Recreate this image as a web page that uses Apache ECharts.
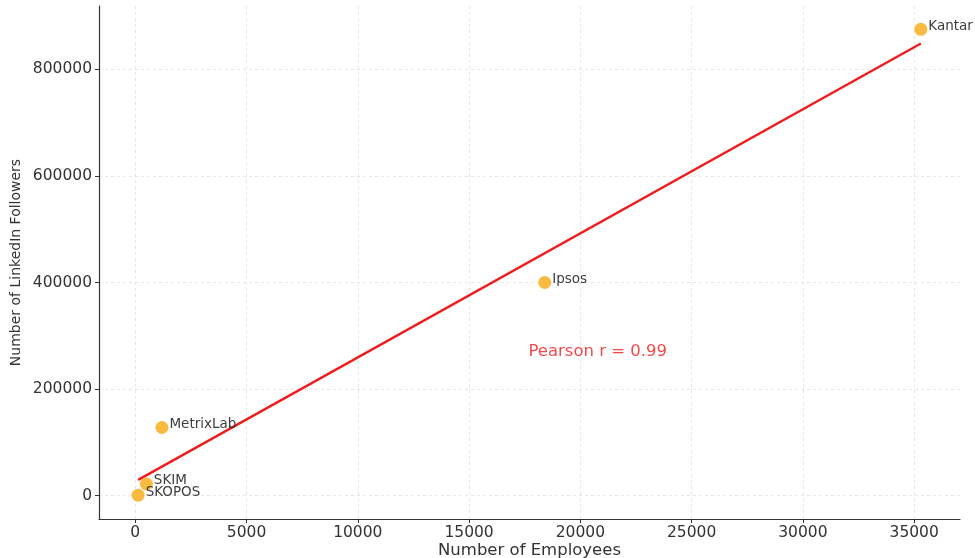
<!DOCTYPE html>
<html>
<head>
<meta charset="utf-8">
<script src="https://cdn.jsdelivr.net/npm/echarts@6/dist/echarts.min.js"></script>
<style>
  html, body { margin: 0; padding: 0; background: #fff; }
  #chart-container { width: 975px; height: 558px; }
</style>
</head>
<body>
<div id="chart-container"></div>
<script>
// 公司数据
const companies = ['Kantar', 'Ipsos', 'MetrixLab', 'SKIM', 'SKOPOS'];
const employees = [35300, 18400, 1200, 500, 130];
const followers = [875000, 400000, 128000, 22000, 1000];
const xTicks = [0, 5000, 10000, 15000, 20000, 25000, 30000, 35000];
const yTicks = [0, 200000, 400000, 600000, 800000];
const pearsonLabel = 'Pearson r = 0.99';
const pearsonAt = [20780, 270000];

// 最小二乘拟合
function linearFit(xs, ys) {
  const n = xs.length;
  const mx = xs.reduce((a, b) => a + b, 0) / n;
  const my = ys.reduce((a, b) => a + b, 0) / n;
  let sxy = 0, sxx = 0;
  for (let i = 0; i < n; i++) {
    sxy += (xs[i] - mx) * (ys[i] - my);
    sxx += (xs[i] - mx) * (xs[i] - mx);
  }
  const slope = sxy / sxx;
  return { slope: slope, intercept: my - slope * mx };
}

const fit = linearFit(employees, followers);
const xLo = Math.min(...employees);
const xHi = Math.max(...employees);
const fitLine = [[xLo, fit.intercept + fit.slope * xLo], [xHi, fit.intercept + fit.slope * xHi]];

// 坐标轴范围 (5% 留白)
const xPad = (xHi - xLo) * 0.05;
const yPad = (Math.max(...followers) - Math.min(...followers)) * 0.05;

const points = companies.map((c, i) => ({ name: c, value: [employees[i], followers[i]] }));

const chartContainer = document.getElementById('chart-container');
const chart = echarts.init(chartContainer);

const font = 'DejaVu Sans';
const gridLine = { show: true, lineStyle: { color: '#e0e0e0', type: [3, 3], width: 0.8 } };
const plain = v => String(v);

chart.setOption({
  animation: false,
  textStyle: { fontFamily: font },
  grid: { left: 99, right: 15, top: 6, bottom: 39, containLabel: false, outerBoundsMode: 'none' },
  xAxis: {
    type: 'value',
    min: xLo - xPad,
    max: xHi + xPad,
    name: 'Number of Employees',
    nameLocation: 'middle',
    nameGap: 23,
    nameMoveOverlap: false,
    nameTextStyle: { fontSize: 16.5, color: '#333', fontFamily: font },
    axisLine: { show: true, onZero: false, lineStyle: { color: '#333', width: 1.2 } },
    axisTick: { show: true, customValues: xTicks, length: 4, lineStyle: { color: '#333' } },
    axisLabel: { customValues: xTicks, formatter: plain, fontSize: 15.5, color: '#333', margin: 6, fontFamily: font },
    splitLine: gridLine
  },
  yAxis: {
    type: 'value',
    min: -yPad,
    max: Math.max(...followers) + yPad,
    name: 'Number of LinkedIn Followers',
    nameLocation: 'middle',
    nameGap: 76,
    nameMoveOverlap: false,
    nameTextStyle: { fontSize: 14, color: '#333', fontFamily: font },
    axisLine: { show: true, onZero: false, lineStyle: { color: '#333', width: 1.2 } },
    axisTick: { show: true, customValues: yTicks, length: 4, lineStyle: { color: '#333' } },
    axisLabel: { customValues: yTicks, formatter: plain, fontSize: 15.5, color: '#333', margin: 7, fontFamily: font },
    splitLine: gridLine
  },
  series: [
    {
      type: 'line',
      data: fitLine,
      showSymbol: false,
      lineStyle: { color: '#ee1c1c', width: 2.4 },
      z: 3
    },
    {
      type: 'scatter',
      data: points,
      symbolSize: 13,
      itemStyle: { color: '#f8b735', opacity: 0.95 },
      label: {
        show: true,
        position: 'right',
        distance: 1,
        offset: [0, -3],
        formatter: '{b}',
        fontSize: 13.5,
        color: '#333',
        fontFamily: font
      },
      z: 4
    },
    {
      type: 'scatter',
      data: [pearsonAt],
      symbolSize: 0,
      label: {
        show: true,
        position: 'inside',
        formatter: pearsonLabel,
        fontSize: 16.5,
        color: '#ee1c1c',
        fontFamily: font
      },
      z: 5
    }
  ]
});
</script>
</body>
</html>
